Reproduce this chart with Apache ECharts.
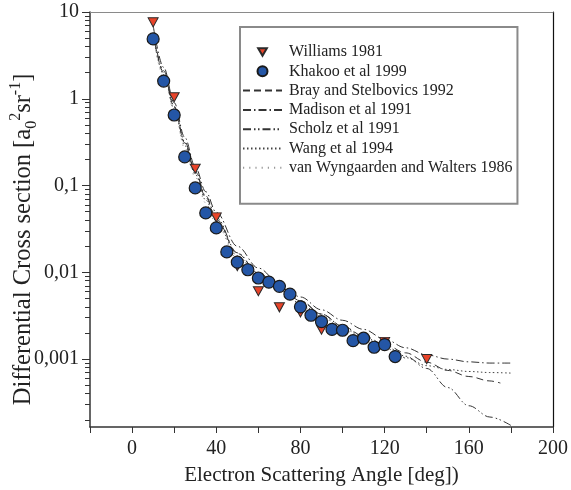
<!DOCTYPE html>
<html><head><meta charset="utf-8">
<script src="https://cdn.jsdelivr.net/npm/echarts@6/dist/echarts.min.js"></script>
<style>html,body{margin:0;padding:0;background:#fff}#c{width:571px;height:490px}</style>
</head><body><div id="c"></div>
<script>
// ---- data (angles in degrees, cross sections in a0^2 sr^-1) ----
const williamsAngles = [10, 20, 30, 40, 50, 60, 70, 80, 90, 120, 140];
const williamsValues = [7.6, 1.04, 0.156, 0.043, 0.0118, 0.00605, 0.00395, 0.00345, 0.00218, 0.00158, 0.00100];

const khakooAngles = [10, 15, 20, 25, 30, 35, 40, 45, 50, 55, 60, 65, 70, 75, 80, 85, 90, 95, 100, 105, 110, 115, 120, 125];
const khakooValues = [4.9, 1.6, 0.65, 0.214, 0.094, 0.0484, 0.0325, 0.0172, 0.0131, 0.0107, 0.0086, 0.0077, 0.0069, 0.0056, 0.0040, 0.0032, 0.0027, 0.0022, 0.00215, 0.00163, 0.00174, 0.00137, 0.00147, 0.00107];

const brayAngles = [10, 15, 20, 25, 30, 35, 40, 50, 60, 70, 80, 90, 100, 110, 120, 130, 140, 150, 160, 170, 175];
const brayValues = [5.6, 2.0, 0.8, 0.31, 0.145, 0.073, 0.041, 0.0165, 0.0098, 0.0068, 0.0047, 0.0033, 0.0024, 0.00185, 0.00148, 0.00118, 0.00092, 0.00074, 0.00063, 0.00056, 0.00053];

const madisonAngles = [10, 15, 20, 25, 30, 35, 40, 50, 60, 70, 80, 90, 100, 110, 120, 130, 140, 150, 160, 170, 180];
const madisonValues = [7.0, 2.3, 0.9, 0.36, 0.165, 0.085, 0.049, 0.020, 0.0112, 0.0075, 0.0052, 0.0037, 0.0028, 0.0022, 0.0017, 0.00135, 0.00112, 0.0010, 0.00093, 0.0009, 0.0009];

const scholzAngles = [10, 15, 20, 25, 30, 35, 40, 50, 60, 70, 80, 90, 100, 110, 120, 130, 140, 150, 160, 170, 180];
const scholzValues = [5.8, 2.1, 0.82, 0.32, 0.15, 0.076, 0.043, 0.0168, 0.0097, 0.0068, 0.0047, 0.0033, 0.0024, 0.0018, 0.00142, 0.00108, 0.00078, 0.00047, 0.00029, 0.000215, 0.000172];

const wangAngles = [10, 15, 20, 25, 30, 35, 40, 50, 60, 70, 80, 90, 100, 110, 120, 130, 140, 150, 160, 170, 180];
const wangValues = [5.3, 1.9, 0.76, 0.29, 0.135, 0.068, 0.039, 0.0155, 0.0092, 0.0063, 0.0044, 0.0031, 0.0023, 0.00175, 0.00135, 0.00104, 0.00084, 0.00076, 0.00072, 0.0007, 0.00069];

const vanWAngles = [10, 15, 20, 25, 30, 35, 40, 50, 60, 70, 80, 90, 100, 110, 120, 130];
const vanWValues = [5.0, 1.8, 0.72, 0.27, 0.125, 0.063, 0.036, 0.0145, 0.0087, 0.006, 0.0042, 0.003, 0.0022, 0.0017, 0.0013, 0.001];

const xTickLabels = ['0', '40', '80', '120', '160', '200'];
const yTickValues = [0.001, 0.01, 0.1, 1, 10];
const yTickLabels = ['0,001', '0,01', '0,1', '1', '10'];
const yMinValue = 0.000165;
const yMaxValue = 10;

// ---- helpers ----
const FONT = '"Liberation Serif", "Times New Roman", serif';
const lg = Math.log10;
const pts = (a, v) => a.map((x, i) => [x, lg(v[i])]);
const yMin = lg(yMinValue), yMax = lg(yMaxValue);
const majorLogs = yTickValues.map(lg);
const minorLogs = [];
for (let n = -4; n <= 0; n++) for (let k = 2; k <= 9; k++) {
  const v = lg(k * Math.pow(10, n));
  if (v >= yMin && v <= yMax) minorLogs.push(v);
}
const yLabelFor = v => {
  for (let i = 0; i < majorLogs.length; i++) if (Math.abs(majorLogs[i] - v) < 1e-6) return yTickLabels[i];
  return '';
};

function lineSeries(name, a, v, dash, color, width) {
  return {
    name, type: 'line', data: pts(a, v), symbol: 'none', showSymbol: false,
    smooth: 0.35, smoothMonotone: 'x', silent: true, z: 2,
    itemStyle: { color: color },
    lineStyle: { color: color, width: width, type: dash }
  };
}
const hiddenIcon = { color: 'rgba(0,0,0,0)', borderColor: 'rgba(0,0,0,0)', borderWidth: 0, opacity: 0 };
const TRI = 'path://M0,0L20,0L10,17Z';

const chart = echarts.init(document.getElementById('c'), null, { renderer: 'canvas' });
chart.setOption({
  animation: false,
  backgroundColor: '#fff',
  textStyle: { fontFamily: FONT },
  grid: { left: 90, right: 18, top: 12, bottom: 63, containLabel: false, outerBoundsMode: 'none' },
  legend: {
    orient: 'vertical', left: 240, top: 27,
    backgroundColor: '#fff', borderColor: '#8a8a8a', borderWidth: 2, borderRadius: 0,
    padding: [17, 5, 28, 2],
    itemWidth: 39, itemHeight: 10, itemGap: 3.3,
    textStyle: { fontFamily: FONT, fontSize: 16, color: '#222', lineHeight: 16, padding: [0, 0, 0, 2] },
    data: [
      { name: 'Williams 1981', icon: 'path://M0,0L20,0L10,17Z M-3,-3 M23,20' },
      { name: 'Khakoo et al 1999' },
      { name: 'Bray and Stelbovics 1992', itemStyle: hiddenIcon },
      { name: 'Madison et al 1991', itemStyle: hiddenIcon },
      { name: 'Scholz et al 1991', itemStyle: hiddenIcon },
      { name: 'Wang et al 1994', itemStyle: hiddenIcon },
      { name: 'van Wyngaarden and Walters 1986', itemStyle: hiddenIcon }
    ]
  },
  xAxis: [
    {
      type: 'value', position: 'bottom', min: -20, max: 200, interval: 20,
      axisLine: { show: true, onZero: false, lineStyle: { color: '#333', width: 1.5 } },
      axisTick: { show: true, inside: false, length: 6, lineStyle: { color: '#333', width: 1 } },
      axisLabel: {
        margin: 12, fontSize: 20, color: '#222', fontFamily: FONT,
        formatter: v => (v % 40 === 0 && v >= 0) ? xTickLabels[v / 40] : ''
      },
      splitLine: { show: false },
      name: 'Electron Scattering Angle [deg])', nameLocation: 'middle', nameGap: 38, nameMoveOverlap: false,
      nameTextStyle: { fontSize: 21, color: '#222', fontFamily: FONT }
    },
    {
      type: 'value', position: 'top', min: -20, max: 200,
      axisLine: { show: true, onZero: false, lineStyle: { color: '#8a8a8a', width: 1 } },
      axisTick: { show: false }, axisLabel: { show: false }, splitLine: { show: false }
    }
  ],
  yAxis: [
    {
      type: 'value', position: 'left', min: yMin, max: yMax,
      axisLine: { show: true, onZero: false, lineStyle: { color: '#333', width: 1.5 } },
      axisTick: { show: true, inside: false, length: 8, customValues: majorLogs, lineStyle: { color: '#333', width: 1 } },
      axisLabel: { show: true, customValues: majorLogs, margin: 11, fontSize: 20, color: '#222', fontFamily: FONT, formatter: yLabelFor },
      splitLine: { show: false },
      name: '{m|Differential Cross section [a}{sub|0}{sup|2}{m|sr}{sup|-1}{m|]}',
      nameLocation: 'middle', nameGap: 50, nameMoveOverlap: false,
      nameTextStyle: {
        fontFamily: FONT, color: '#222', padding: [0, 40, 0, 0],
        rich: {
          m: { fontSize: 24.5, lineHeight: 32, fontFamily: FONT, color: '#222' },
          sub: { fontSize: 16, lineHeight: 16, verticalAlign: 'bottom', fontFamily: FONT, color: '#222' },
          sup: { fontSize: 16, lineHeight: 16, verticalAlign: 'top', fontFamily: FONT, color: '#222' }
        }
      }
    },
    {
      type: 'value', position: 'left', min: yMin, max: yMax,
      axisLine: { show: false, onZero: false },
      axisTick: { show: true, inside: false, length: 5, customValues: minorLogs, lineStyle: { color: '#333', width: 1 } },
      axisLabel: { show: false }, splitLine: { show: false }
    },
    {
      type: 'value', position: 'right', min: yMin, max: yMax,
      axisLine: { show: true, onZero: false, lineStyle: { color: '#111', width: 1.2 } },
      axisTick: { show: false }, axisLabel: { show: false }, splitLine: { show: false }
    }
  ],
  series: [
    lineSeries('Bray and Stelbovics 1992', brayAngles, brayValues, [7, 4], '#333', 1),
    lineSeries('Madison et al 1991', madisonAngles, madisonValues, [8, 3, 1.5, 3], '#333', 1),
    lineSeries('Scholz et al 1991', scholzAngles, scholzValues, [8, 3, 1.5, 2.5, 1.5, 3], '#333', 1),
    lineSeries('Wang et al 1994', wangAngles, wangValues, [1.5, 2.5], '#444', 1),
    lineSeries('van Wyngaarden and Walters 1986', vanWAngles, vanWValues, [1.2, 5], '#999', 1),
    {
      name: 'Williams 1981', type: 'scatter', data: pts(williamsAngles, williamsValues),
      symbol: TRI, symbolSize: [10, 9], z: 3, silent: true,
      itemStyle: { color: '#e8442a', borderColor: '#2a2a2a', borderWidth: 1, opacity: 1 }
    },
    {
      name: 'Khakoo et al 1999', type: 'scatter', data: pts(khakooAngles, khakooValues),
      symbol: 'circle', symbolSize: 12, z: 4, silent: true,
      itemStyle: { color: '#2456a6', borderColor: '#1a1a1a', borderWidth: 1.2, opacity: 1 }
    }
  ]
});
</script>
</body></html>
